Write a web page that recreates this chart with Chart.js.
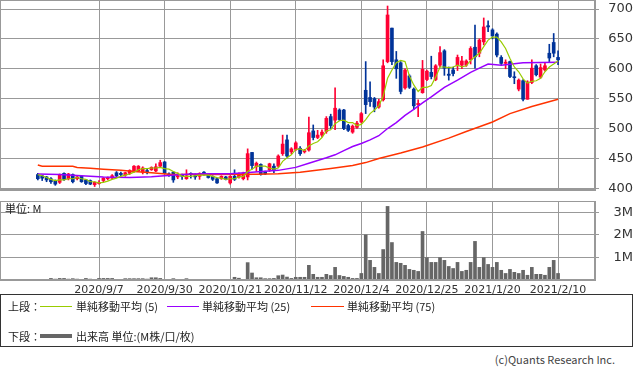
<!DOCTYPE html>
<html>
<head>
<meta charset="utf-8">
<script src="https://cdn.jsdelivr.net/npm/chart.js@4.4.1/dist/chart.umd.min.js"></script>
<style>
  body { margin: 0; background: #fff; }
  #wrap { position: relative; width: 633px; height: 374px; overflow: hidden; font-family: 'Noto Sans CJK JP', sans-serif; color: #222; }
  #priceChart { position: absolute; left: 0; top: 0; }
  #volChart { position: absolute; left: 0; top: 198px; }
  .unit { position: absolute; left: 5px; top: 201px; font-size: 11px; line-height: 14px; }
  .legend { position: absolute; left: 0; top: 294px; width: 631px; height: 51px; border: 1px solid #333; font-size: 11px; }
  .legend span { position: absolute; line-height: 14px; white-space: nowrap; }
  .legend i { position: absolute; display: block; }
  .copy { position: absolute; right: 18px; top: 351px; font-size: 11px; color: #444; }
</style>
</head>
<body>
<div id="wrap">
  <canvas id="priceChart" width="633" height="198"></canvas>
  <canvas id="volChart" width="633" height="100"></canvas>
  <div class="unit">単位: M</div>
  <div class="legend">
    <span style="left:7px;top:4px">上段：</span>
    <i style="left:39px;top:11px;width:32px;height:1px;background:#99cc00"></i>
    <span style="left:75px;top:4px">単純移動平均 (5)</span>
    <i style="left:166px;top:11px;width:32px;height:1px;background:#9900ff"></i>
    <span style="left:201px;top:4px">単純移動平均 (25)</span>
    <i style="left:310px;top:11px;width:33px;height:1px;background:#ff3300"></i>
    <span style="left:346px;top:4px">単純移動平均 (75)</span>
    <span style="left:7px;top:34px">下段：</span>
    <i style="left:39px;top:39px;width:32px;height:4px;background:#666"></i>
    <span style="left:75px;top:34px">出来高 単位:(M株/口/枚)</span>
  </div>
  <div class="copy">(c)Quants Research Inc.</div>
</div>
<script>
// index 0 = first session shown, index 119 = 2021/2/10
const tickIndex = [14, 29, 44, 59, 74, 89, 104, 119];
const tickLabels = ['2020/9/7', '2020/9/30', '2020/10/21', '2020/11/12', '2020/12/4', '2020/12/25', '2021/1/20', '2021/2/10'];
const priceTicks = [400, 450, 500, 550, 600, 650, 700];
const volTicks = [1, 2, 3];

const opens = [
  423, 421, 419, 416, 412, 410, 425, 416, 423, 416,
  420, 414, 413, 406, 408, 413, 416, 417, 426, 425,
  422, 425, 428, 429, 427, 429, 431, 429, 437, 444,
  424, 427, 419, 423, 416, 425, 421, 420, 427, 422,
  420, 416, 416, 419, 409, 420, 419, 416, 419, 460,
  436, 440, 428, 431, 437, 437, 458, 481, 461, 465,
  467, 461, 464, 496, 485, 489, 495, 520, 514, 531,
  531, 505, 494, 502, 511, 564, 552, 550, 536, 548,
  612, 668, 615, 610, 568, 588, 566, 540, 560, 582,
  594, 582, 606, 630, 591, 598, 605, 606, 606, 615,
  636, 626, 645, 672, 665, 658, 619, 609, 612, 586,
  566, 580, 549, 577, 605, 586, 598, 626, 644, 619
];
const highs = [
  425, 422, 420, 418, 414, 424, 426, 425, 424, 421,
  421, 415, 414, 411, 413, 418, 419, 423, 428, 427,
  427, 431, 438, 438, 436, 433, 436, 441, 447, 445,
  426, 428, 426, 424, 431, 426, 424, 426, 428, 423,
  421, 417, 421, 420, 421, 431, 426, 427, 466, 460,
  444, 441, 429, 442, 441, 456, 489, 489, 468, 478,
  470, 465, 519, 506, 497, 498, 520, 524, 568, 533,
  532, 507, 506, 512, 527, 612, 578, 552, 549, 615,
  705, 668, 629, 612, 600, 590, 568, 548, 614, 598,
  621, 607, 637, 632, 603, 603, 623, 621, 615, 637,
  673, 650, 685, 680, 667, 660, 622, 615, 613, 595,
  583, 582, 580, 615, 607, 608, 609, 641, 659, 630
];
const lows = [
  414, 413, 411, 408, 405, 408, 413, 414, 409, 414,
  410, 406, 406, 403, 407, 411, 414, 416, 419, 421,
  420, 423, 427, 428, 424, 424, 430, 428, 436, 424,
  420, 410, 416, 415, 415, 417, 415, 415, 422, 417,
  413, 408, 415, 414, 407, 413, 417, 414, 414, 432,
  428, 422, 423, 428, 426, 435, 455, 452, 458, 463,
  455, 459, 462, 481, 483, 486, 492, 500, 498, 513,
  498, 495, 492, 500, 509, 525, 537, 528, 534, 546,
  610, 607, 584, 558, 566, 567, 532, 520, 559, 580,
  583, 580, 603, 589, 581, 588, 597, 600, 604, 608,
  601, 620, 640, 662, 650, 620, 607, 600, 585, 575,
  563, 546, 549, 575, 588, 584, 596, 612, 620, 607
];
const closes = [
  416, 417, 414, 411, 407, 423, 415, 424, 411, 419,
  411, 408, 407, 410, 410, 417, 418, 421, 421, 423,
  426, 430, 437, 437, 434, 428, 435, 436, 443, 425,
  422, 414, 421, 420, 421, 423, 419, 425, 424, 418,
  415, 409, 420, 415, 420, 415, 424, 425, 458, 438,
  442, 423, 424, 441, 430, 454, 474, 454, 466, 476,
  458, 463, 493, 485, 489, 494, 517, 505, 534, 515,
  500, 497, 504, 509, 525, 540, 545, 536, 545, 605,
  690, 612, 600, 562, 598, 569, 538, 542, 599, 596,
  587, 605, 627, 601, 589, 592, 619, 613, 613, 634,
  620, 648, 670, 670, 655, 623, 609, 611, 587, 585,
  581, 549, 578, 601, 590, 602, 605, 618, 626, 615
];
const ma5 = [
  423, 421, 418, 415, 413, 414, 414, 416, 416, 418,
  416, 415, 411, 411, 409, 410, 412, 415, 417, 420,
  422, 424, 427, 431, 433, 433, 434, 434, 435, 433,
  432, 428, 425, 420, 420, 420, 421, 422, 422, 422,
  420, 418, 417, 415, 416, 416, 419, 420, 428, 432,
  437, 437, 437, 434, 432, 434, 445, 451, 456, 465,
  466, 463, 471, 475, 478, 485, 496, 498, 508, 513,
  514, 510, 510, 505, 507, 515, 525, 531, 538, 554,
  584, 598, 610, 614, 612, 588, 573, 562, 569, 569,
  572, 586, 603, 603, 602, 603, 606, 603, 605, 614,
  620, 626, 637, 648, 653, 653, 645, 634, 617, 603,
  595, 583, 576, 579, 580, 584, 595, 603, 608, 613
];
// moving averages at these sessions
const ma25At = [0, 5, 10, 15, 21, 26, 29, 35, 40, 44, 49, 55, 59, 62, 66, 68, 70, 72, 74, 76, 78, 80, 82, 84, 86, 88, 90, 93, 96, 99, 101, 103, 106, 111, 119];
const ma25 = [424, 423, 421, 419, 418, 419.5, 421, 424, 424.5, 424.5, 427, 430, 435, 442, 451, 456, 463, 470, 475, 481, 488, 500, 510, 522, 532, 543, 553, 569, 581, 594, 601, 608, 606, 610, 611];
const ma75At = [0, 1, 8, 9, 12, 15, 19, 22, 26, 30, 40, 50, 55, 60, 67, 72, 75, 78, 83, 88, 94, 98, 104, 108, 113, 119];
const ma75 = [439, 437, 437, 435, 433.5, 432, 430, 428, 426, 423.5, 423, 423.5, 424.5, 427, 433, 438, 443, 450, 459, 469, 484, 495, 511, 525, 537, 549];
const volumes = [
  0.03, 0.03, 0.03, 0.07, 0.04, 0.07, 0.07, 0.04, 0.06, 0.04,
  0.03, 0.07, 0.04, 0.03, 0.07, 0.07, 0.07, 0.07, 0.03, 0.03,
  0.06, 0.06, 0.06, 0.06, 0.06, 0.04, 0.1, 0.1, 0.07, 0.03,
  0.02, 0.06, 0.03, 0.03, 0.06, 0.03, 0.03, 0.03, 0.03, 0.03,
  0.03, 0.03, 0.03, 0.03, 0.03, 0.12, 0.08, 0.03, 0.77, 0.31,
  0.1, 0.1, 0.06, 0.06, 0.07, 0.19, 0.22, 0.13, 0.07, 0.12,
  0.12, 0.12, 0.65, 0.25, 0.12, 0.12, 0.25, 0.2, 0.56, 0.2,
  0.16, 0.12, 0.07, 0.07, 0.29, 2.0, 0.87, 0.56, 0.29, 1.35,
  3.26, 1.66, 0.78, 0.74, 0.65, 0.47, 0.43, 0.38, 2.15, 0.99,
  0.78, 0.78, 0.99, 0.87, 0.6, 0.51, 0.78, 0.38, 0.43, 0.78,
  1.71, 0.56, 0.99, 0.69, 0.56, 0.78, 0.43, 0.29, 0.47, 0.34,
  0.29, 0.43, 0.21, 0.56, 0.25, 0.25, 0.21, 0.56, 0.87, 0.29
];

const RED = '#ff0033';
const BLUE = '#003399';
const GRID = '#999';
const TXT = '#333';
const X_MIN = -8.65, X_MAX = 127.45;

const candleColors = closes.map((c, i) => c >= opens[i] ? RED : BLUE);
const bodies = closes.map((c, i) => ({ x: i, y: [opens[i], c] }));
const wicks = closes.map((c, i) => ({ x: i, y: [lows[i], highs[i]] }));

// grey frame round the plot area
const frame = {
  id: 'frame',
  afterDraw(chart) {
    const a = chart.chartArea, c = chart.ctx;
    c.save();
    c.strokeStyle = GRID;
    c.lineWidth = 1;
    c.strokeRect(Math.round(a.left) + 0.5, Math.round(a.top) + 0.5, Math.round(a.right - a.left) - 1, Math.round(a.bottom - a.top) - 1);
    c.restore();
  }
};

function noPad(s) {
  s.paddingTop = 0; s.paddingBottom = 0; s.paddingLeft = 0; s.paddingRight = 0;
}

new Chart(document.getElementById('priceChart'), {
  type: 'bar',
  data: {
    datasets: [
      { type: 'line', data: ma5.map((v, i) => ({ x: i, y: v })), borderColor: '#99cc00', borderWidth: 1.2, pointRadius: 0, order: 0 },
      { type: 'line', data: ma25At.map((x, k) => ({ x: x, y: ma25[k] })), borderColor: '#9900ff', borderWidth: 1.5, pointRadius: 0, order: 0 },
      { type: 'line', data: ma75At.map((x, k) => ({ x: x, y: ma75[k] })), borderColor: '#ff3300', borderWidth: 1.5, pointRadius: 0, order: 0 },
      { data: bodies, backgroundColor: candleColors, barThickness: 3, minBarLength: 1, grouped: false, order: 1 },
      { data: wicks, backgroundColor: candleColors, barThickness: 1, grouped: false, order: 2 }
    ]
  },
  options: {
    responsive: false,
    animation: false,
    events: [],
    layout: { autoPadding: false, padding: { top: 0, bottom: 8, left: 0, right: 0 } },
    plugins: { legend: { display: false }, tooltip: { enabled: false } },
    scales: {
      x: {
        type: 'linear', min: X_MIN, max: X_MAX, offset: false,
        afterBuildTicks: s => { s.ticks = tickIndex.map(v => ({ value: v })); },
        afterFit: s => { s.height = 0; noPad(s); },
        ticks: { display: false },
        grid: { color: GRID, offset: false, drawTicks: false },
        border: { color: GRID }
      },
      y: {
        position: 'right', min: 397.16, max: 715.06,
        afterBuildTicks: s => { s.ticks = priceTicks.map(v => ({ value: v })); },
        afterFit: s => { s.width = 38; noPad(s); },
        ticks: { color: TXT, font: { family: 'DejaVu Sans', size: 13 }, padding: 4, crossAlign: 'far' },
        grid: { color: GRID, tickLength: 4 },
        border: { color: GRID }
      }
    }
  },
  plugins: [frame]
});

new Chart(document.getElementById('volChart'), {
  type: 'bar',
  data: {
    datasets: [
      { data: volumes.map((v, i) => ({ x: i, y: v })), backgroundColor: '#666', barThickness: 3 }
    ]
  },
  options: {
    responsive: false,
    animation: false,
    events: [],
    layout: { autoPadding: false, padding: { top: 3, bottom: 0, left: 0, right: 0 } },
    plugins: { legend: { display: false }, tooltip: { enabled: false } },
    scales: {
      x: {
        type: 'linear', min: X_MIN, max: X_MAX, offset: false,
        afterBuildTicks: s => { s.ticks = tickIndex.map(v => ({ value: v })); },
        afterFit: s => { s.height = 18; noPad(s); },
        ticks: {
          autoSkip: false, maxRotation: 0, minRotation: 0, padding: 4, color: TXT,
          font: { family: 'DejaVu Sans', size: 11 },
          callback: v => tickLabels[tickIndex.indexOf(v)]
        },
        grid: { color: GRID, offset: false, drawTicks: false },
        border: { color: GRID }
      },
      y: {
        position: 'right', min: 0, max: 3.5,
        afterBuildTicks: s => { s.ticks = volTicks.map(v => ({ value: v })); },
        afterFit: s => { s.width = 38; noPad(s); },
        ticks: { color: TXT, font: { family: 'DejaVu Sans', size: 13 }, padding: 4, crossAlign: 'far', callback: v => v + 'M' },
        grid: { color: GRID, tickLength: 4 },
        border: { color: GRID }
      }
    }
  },
  plugins: [frame]
});
</script>
</body>
</html>
